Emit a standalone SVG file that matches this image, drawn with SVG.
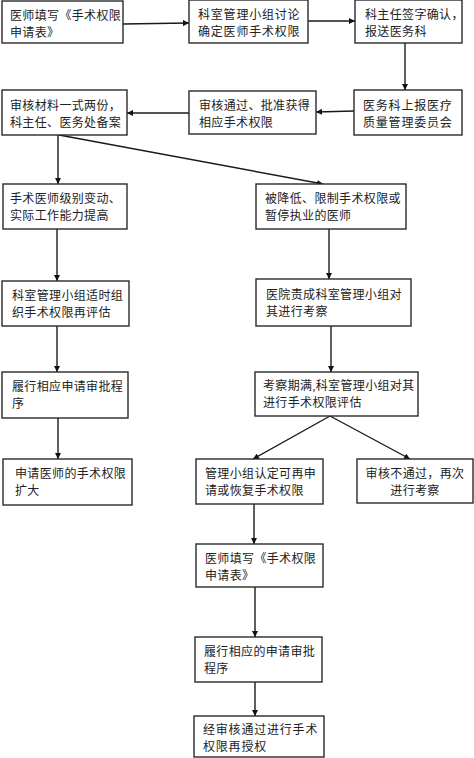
<svg xmlns="http://www.w3.org/2000/svg" width="474" height="758" viewBox="0 0 474 758">
<style>
.b{fill:#fff;stroke:#2a2a2a;stroke-width:1.4}
.t{font-family:"Liberation Serif","Noto Sans CJK SC",serif;font-size:12px;fill:#222;letter-spacing:0.35px}
.w{letter-spacing:0.8px}
.c{text-anchor:middle}
.l{stroke:#1a1a1a;stroke-width:1.4;fill:none;marker-end:url(#a)}
</style>
<defs>
<marker id="a" viewBox="0 0 10 10" refX="10" refY="5" markerWidth="6" markerHeight="6" markerUnits="userSpaceOnUse" orient="auto">
<path d="M0,0 L10,5 L0,10 z" fill="#111"/>
</marker>
</defs>
<rect width="474" height="758" fill="#fff"/>
<g id="connectors">
<line class="l" x1="123" y1="24" x2="189" y2="23"/>
<line class="l" x1="308" y1="21" x2="355" y2="21"/>
<line class="l" x1="405" y1="43" x2="405" y2="90"/>
<line class="l" x1="354" y1="111" x2="316" y2="112"/>
<line class="l" x1="189" y1="113" x2="127" y2="113"/>
<line class="l" x1="58" y1="135" x2="58" y2="184"/>
<line class="l" x1="59" y1="135" x2="323" y2="184"/>
<line class="l" x1="57" y1="229" x2="57" y2="281"/>
<line class="l" x1="329" y1="229" x2="329" y2="279"/>
<line class="l" x1="57" y1="326" x2="57" y2="372"/>
<line class="l" x1="331" y1="326" x2="331" y2="372"/>
<line class="l" x1="58" y1="418" x2="58" y2="459"/>
<line class="l" x1="330" y1="416" x2="253" y2="459"/>
<line class="l" x1="330" y1="416" x2="410" y2="459"/>
<line class="l" x1="254" y1="504" x2="254" y2="544"/>
<line class="l" x1="255" y1="587" x2="255" y2="637"/>
<line class="l" x1="255" y1="682" x2="255" y2="716"/>
</g>
<g id="A"><rect class="b" x="2" y="1" width="121" height="42"/><text class="t" x="10" y="20">医师填写《手术权限</text><text class="t" x="10" y="37">申请表》</text></g>
<g id="B"><rect class="b" x="189" y="0" width="119" height="43"/><text class="t w" x="198" y="19">科室管理小组讨论</text><text class="t w" x="198" y="36">确定医师手术权限</text></g>
<g id="C"><rect class="b" x="355" y="0" width="107" height="43"/><text class="t" x="365" y="19">科主任签字确认，</text><text class="t" x="365" y="36">报送医务科</text></g>
<g id="D"><rect class="b" x="2" y="90" width="125" height="45"/><text class="t" x="10" y="110">审核材料一式两份，</text><text class="t" x="10" y="127">科主任、医务处备案</text></g>
<g id="E"><rect class="b" x="189" y="91" width="127" height="43"/><text class="t" x="199" y="110">审核通过、批准获得</text><text class="t" x="199" y="127">相应手术权限</text></g>
<g id="F"><rect class="b" x="354" y="90" width="108" height="45"/><text class="t w" x="363" y="110">医务科上报医疗</text><text class="t w" x="363" y="127">质量管理委员会</text></g>
<g id="G"><rect class="b" x="3" y="184" width="124" height="45"/><text class="t" x="10" y="203">手术医师级别变动、</text><text class="t" x="10" y="220">实际工作能力提高</text></g>
<g id="H"><rect class="b" x="256" y="184" width="150" height="45"/><text class="t" x="265" y="203">被降低、限制手术权限或</text><text class="t" x="265" y="220">暂停执业的医师</text></g>
<g id="I"><rect class="b" x="2" y="281" width="127" height="45"/><text class="t" x="12" y="300">科室管理小组适时组</text><text class="t" x="12" y="317">织手术权限再评估</text></g>
<g id="J"><rect class="b" x="256" y="279" width="155" height="47"/><text class="t" x="266" y="299">医院责成科室管理小组对</text><text class="t" x="266" y="316">其进行考察</text></g>
<g id="K"><rect class="b" x="2" y="372" width="126" height="46"/><text class="t" x="12" y="391">履行相应申请审批程</text><text class="t" x="12" y="408">序</text></g>
<g id="L"><rect class="b" x="255" y="372" width="163" height="44"/><text class="t" x="263" y="390">考察期满,科室管理小组对其</text><text class="t" x="263" y="407">进行手术权限评估</text></g>
<g id="M"><rect class="b" x="3" y="459" width="129" height="46"/><text class="t" x="15" y="478">申请医师的手术权限</text><text class="t" x="15" y="495">扩大</text></g>
<g id="N"><rect class="b" x="196" y="459" width="127" height="45"/><text class="t" x="205" y="478">管理小组认定可再申</text><text class="t" x="205" y="495">请或恢复手术权限</text></g>
<g id="O"><rect class="b" x="357" y="459" width="116" height="44"/><text class="t c" x="415" y="478">审核不通过，再次</text><text class="t c" x="415" y="495">进行考察</text></g>
<g id="P"><rect class="b" x="196" y="544" width="127" height="43"/><text class="t" x="205" y="563">医师填写《手术权限</text><text class="t" x="205" y="580">申请表》</text></g>
<g id="Q"><rect class="b" x="195" y="637" width="127" height="45"/><text class="t" x="204" y="656">履行相应的申请审批</text><text class="t" x="204" y="673">程序</text></g>
<g id="R"><rect class="b" x="194" y="716" width="130" height="41"/><text class="t w" x="203" y="734">经审核通过进行手术</text><text class="t w" x="203" y="751">权限再授权</text></g>
</svg>
